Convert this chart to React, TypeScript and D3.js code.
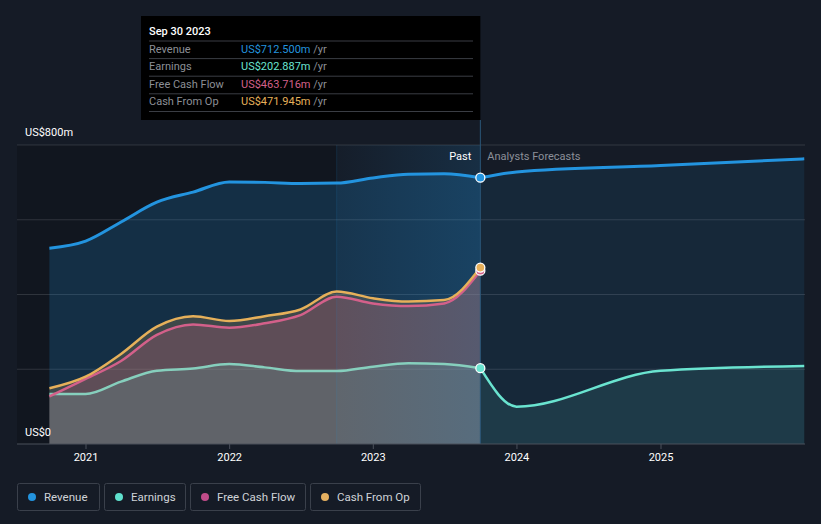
import React from 'react';
import * as d3 from 'd3';

// quarterly history (trailing twelve months), US$m
const pastDates = [
  '2020-09-30', '2020-12-31', '2021-03-31', '2021-06-30', '2021-09-30',
  '2021-12-31', '2022-03-31', '2022-06-30', '2022-09-30', '2022-12-31',
  '2023-03-31', '2023-06-30', '2023-09-30',
];
const revenuePast = [524, 543, 594, 647, 674, 701, 700, 697, 698, 712, 722, 723, 712.5];
const earningsPast = [134, 134, 167, 196, 202, 214, 205, 195, 195, 207, 216, 214, 202.887];
const fcfPast = [127, 174, 222, 292, 320, 311, 323, 345, 394, 376, 369, 376, 463.716];
const cashOpPast = [149, 180, 241, 314, 342, 329, 342, 360, 408, 390, 381, 385, 471.945];

// analyst forecasts
const forecastDates = ['2023-09-30', '2023-12-31', '2024-12-31', '2025-12-31'];
const revenueForecast = [712.5, 728, 745, 763];
const earningsForecast = [202.887, 100, 196, 209];

const yearTicks = ['2021', '2022', '2023', '2024', '2025'];
const yTickValues = [0, 200, 400, 600, 800];

const tooltipRows = [
  { label: 'Revenue', value: 'US$712.500m', color: '#2394df' },
  { label: 'Earnings', value: 'US$202.887m', color: '#6ae4d0' },
  { label: 'Free Cash Flow', value: 'US$463.716m', color: '#d3608a' },
  { label: 'Cash From Op', value: 'US$471.945m', color: '#e6b05a' },
];

const legendItems = [
  { name: 'Revenue', color: '#2394df' },
  { name: 'Earnings', color: '#5fe0cd' },
  { name: 'Free Cash Flow', color: '#c04c8a' },
  { name: 'Cash From Op', color: '#e5b060' },
];

interface Pt {
  date: Date;
  value: number;
}

const parse = d3.timeParse('%Y-%m-%d');
const toPts = (dates: string[], values: number[]): Pt[] =>
  dates.map((d, i) => ({ date: parse(d) as Date, value: values[i] }));

const App: React.FC = () => {
  const width = 821;
  const height = 524;
  const left = 17;
  const right = 805;
  const font = 'Roboto, "Noto Sans", sans-serif';

  const x = d3.scaleTime()
    .domain([parse('2021-01-01') as Date, parse('2025-01-01') as Date])
    .range([86, 661]);
  const y = d3.scaleLinear().domain([0, 800]).range([444, 145]);

  const line = d3.line<Pt>()
    .x(d => x(d.date))
    .y(d => y(d.value))
    .curve(d3.curveMonotoneX);
  const area = d3.area<Pt>()
    .x(d => x(d.date))
    .y0(y(0))
    .y1(d => y(d.value))
    .curve(d3.curveMonotoneX);

  const rev = toPts(pastDates, revenuePast);
  const earn = toPts(pastDates, earningsPast);
  const fcf = toPts(pastDates, fcfPast);
  const cop = toPts(pastDates, cashOpPast);
  const revF = toPts(forecastDates, revenueForecast);
  const earnF = toPts(forecastDates, earningsForecast);

  const nowX = x(parse('2023-09-30') as Date);
  const yearAgoX = x(parse('2022-09-30') as Date);
  const last = rev.length - 1;

  const legendX = [17, 104, 190, 310];
  const legendW = [82, 81, 115, 110];

  return (
    <svg
      width={width}
      height={height}
      style={{ position: 'absolute', left: 0, top: 0, background: '#151b26', fontFamily: font }}
    >
      <defs>
        <linearGradient id="hl" x1="0" x2="1" y1="0" y2="0">
          <stop offset="0%" stopColor="#2394df" stopOpacity={0.02} />
          <stop offset="100%" stopColor="#2394df" stopOpacity={0.16} />
        </linearGradient>
      </defs>

      {/* darker past background */}
      <rect x={left} y={145} width={yearAgoX - left} height={299} fill="#000" opacity={0.18} />

      {/* grid */}
      {yTickValues.slice(1).map(v => (
        <line key={v} x1={left} x2={right} y1={y(v)} y2={y(v)} stroke="#ffffff" strokeOpacity={0.13} />
      ))}

      {/* forecast areas */}
      <path d={area(revF) || ''} fill="#2394df" fillOpacity={0.11} />
      <path d={area(earnF) || ''} fill="#6ae4d0" fillOpacity={0.1} />

      {/* past areas */}
      <path d={area(rev) || ''} fill="#2394df" fillOpacity={0.2} />
      <path d={area(cop) || ''} fill="#e6b05a" fillOpacity={0.2} />
      <path d={area(fcf) || ''} fill="#d3608a" fillOpacity={0.22} />
      <path d={area(earn) || ''} fill="#6ae4d0" fillOpacity={0.15} />

      {/* last 12 months highlight */}
      <rect x={yearAgoX} y={145} width={nowX - yearAgoX} height={299} fill="url(#hl)" />
      <line x1={yearAgoX} x2={yearAgoX} y1={145} y2={444} stroke="#2394df" strokeOpacity={0.15} />
      <line x1={nowX} x2={nowX} y1={120} y2={444} stroke="#2a5578" strokeWidth={1} />

      {/* lines */}
      <path d={line(revF) || ''} fill="none" stroke="#2394df" strokeWidth={3} />
      <path d={line(earnF) || ''} fill="none" stroke="#6ae4d0" strokeWidth={2.5} />
      <path d={line(earn) || ''} fill="none" stroke="#86cfbd" strokeWidth={2.5} />
      <path d={line(fcf) || ''} fill="none" stroke="#d3608a" strokeWidth={2.5} />
      <path d={line(cop) || ''} fill="none" stroke="#e6b05a" strokeWidth={2.5} />
      <path d={line(rev) || ''} fill="none" stroke="#2394df" strokeWidth={3} />

      {/* end-of-history markers */}
      {[
        { p: fcf[last], c: '#d3608a' },
        { p: cop[last], c: '#e6b05a' },
        { p: earn[last], c: '#6ae4d0' },
        { p: rev[last], c: '#2394df' },
      ].map((m, i) => (
        <circle key={i} cx={x(m.p.date)} cy={y(m.p.value)} r={4.5} fill={m.c} stroke="#fff" strokeWidth={1.3} />
      ))}

      {/* x axis */}
      <line x1={left} x2={right} y1={444} y2={444} stroke="#4a505b" />
      {yearTicks.map(t => {
        const tx = x(parse(`${t}-01-01`) as Date);
        return (
          <g key={t}>
            <line x1={tx} x2={tx} y1={444} y2={449} stroke="#4a505b" />
            <text x={tx} y={461} textAnchor="middle" fontSize={11} fill="#fff">{t}</text>
          </g>
        );
      })}

      {/* y labels */}
      <text x={25} y={136} fontSize={11} fill="#fff">US$800m</text>
      <text x={25} y={436} fontSize={11} fill="#fff">US$0</text>

      <text x={nowX - 9} y={160} textAnchor="end" fontSize={11} fill="#fff">Past</text>
      <text x={nowX + 7} y={160} fontSize={11} fill="#8c9099">Analysts Forecasts</text>

      {/* tooltip */}
      <rect x={141} y={16} width={nowX - 141} height={104} fill="#000" />
      <text x={149} y={35} fontSize={11} fontWeight={500} fill="#fff">Sep 30 2023</text>
      {tooltipRows.map((r, i) => {
        const top = 41 + i * 17.6;
        return (
          <g key={r.label}>
            <line x1={149} x2={473} y1={top} y2={top} stroke="#3a3d44" />
            <text x={149} y={top + 11.5} fontSize={11} fill="#8c8f96">{r.label}</text>
            <text x={241} y={top + 11.5} fontSize={11} fill={r.color}>
              {r.value}
              <tspan fill="#8c8f96"> /yr</tspan>
            </text>
          </g>
        );
      })}
      <line x1={149} x2={473} y1={111.5} y2={111.5} stroke="#3a3d44" />

      {/* legend */}
      {legendItems.map((l, i) => (
        <g key={l.name} transform={`translate(${legendX[i]},483)`}>
          <rect x={0.5} y={0.5} width={legendW[i]} height={27} rx={2} fill="none" stroke="#3a404b" />
          <circle cx={15} cy={14} r={4} fill={l.color} />
          <text x={27} y={18} fontSize={11.5} fill="#d0d3d8">{l.name}</text>
        </g>
      ))}
    </svg>
  );
};

export default App;
